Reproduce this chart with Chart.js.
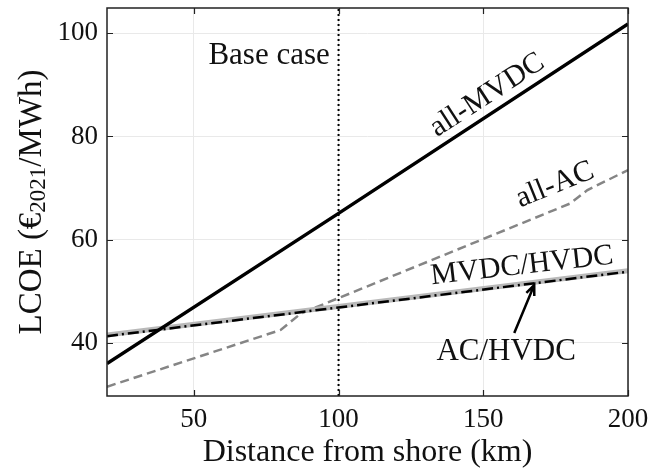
<!DOCTYPE html>
<html>
<head>
<meta charset="utf-8">
<script src="https://cdn.jsdelivr.net/npm/chart.js@4.4.1/dist/chart.umd.min.js"></script>
<style>
  html, body { margin: 0; padding: 0; background: #fff; }
  #wrap { width: 653px; height: 472px; position: relative; }
</style>
</head>
<body>
<div id="wrap"><canvas id="chart"></canvas></div>
<script>
// values
const mvdcDist = [20, 100, 200];
const mvdcCost = [36.0, 65.1, 101.8];

const acDist = [20, 80, 87, 180, 186, 200];
const acCost = [31.5, 42.5, 45.7, 67.0, 69.6, 73.5];

const mvdcHvdcDist = [20, 200];
const mvdcHvdcCost = [41.5, 54.0];

const acHvdcDist = [20, 200];
const acHvdcCost = [41.3, 53.8];

const baseCaseDist = [100, 100];
const baseCaseCost = [29.7, 104.9];

const xTicks = [50, 100, 150, 200];
const yTicks = [40, 60, 80, 100];

const SERIF = "'Liberation Serif', 'Times New Roman', serif";

const toPoints = (xs, ys) => xs.map((x, i) => ({ x: x, y: ys[i] }));

const line = (label, xs, ys, color, width, dash) => ({
	label: label,
	data: toPoints(xs, ys),
	borderColor: color,
	borderWidth: width,
	borderDash: dash || [],
	pointRadius: 0,
	tension: 0,
	fill: false,
});

// labels drawn on top of the plot
const annotations = {
	id: 'annotations',
	afterDraw(chart) {
		const ctx = chart.ctx;
		const xs = chart.scales.x;
		const ys = chart.scales.y;
		const area = chart.chartArea;
		const px = v => xs.getPixelForValue(v);
		const py = v => ys.getPixelForValue(v);

		ctx.save();
		// frame
		ctx.strokeStyle = '#222';
		ctx.lineWidth = 1.5;
		ctx.strokeRect(area.left, area.top, area.right - area.left, area.bottom - area.top);

		// inward ticks on all four sides
		ctx.lineWidth = 1.2;
		ctx.beginPath();
		xTicks.forEach(v => {
			const x = Math.round(px(v)) + 0.5;
			ctx.moveTo(x, area.bottom); ctx.lineTo(x, area.bottom - 6);
			ctx.moveTo(x, area.top); ctx.lineTo(x, area.top + 6);
		});
		yTicks.forEach(v => {
			const y = Math.round(py(v)) + 0.5;
			ctx.moveTo(area.left, y); ctx.lineTo(area.left + 6, y);
			ctx.moveTo(area.right, y); ctx.lineTo(area.right - 6, y);
		});
		ctx.stroke();

		ctx.fillStyle = '#111';
		ctx.textBaseline = 'middle';
		ctx.textAlign = 'center';

		const text = (str, x, y, deg, size) => {
			ctx.save();
			ctx.font = size + 'px ' + SERIF;
			ctx.translate(px(x), py(y));
			ctx.rotate(deg * Math.PI / 180);
			ctx.fillText(str, 0, 0);
			ctx.restore();
		};
		text('Base case', 76, 95.7, 0, 31);
		text('all-MVDC', 151.4, 88.0, -33, 30);
		text('all-AC', 174.8, 70.6, -22, 30);
		text('MVDC/HVDC', 163.4, 54.9, -6.5, 30);
		text('AC/HVDC', 157.9, 38.3, 0, 31);

		// arrow AC/HVDC -> its line
		const x0 = px(160.7), y0 = py(41.9), x1 = px(167.6), y1 = py(51.2);
		const ang = Math.atan2(y1 - y0, x1 - x0);
		ctx.strokeStyle = '#000';
		ctx.lineWidth = 2.5;
		ctx.beginPath();
		ctx.moveTo(x0, y0); ctx.lineTo(x1, y1);
		ctx.moveTo(x1 - 11 * Math.cos(ang - 0.4), y1 - 11 * Math.sin(ang - 0.4));
		ctx.lineTo(x1, y1);
		ctx.lineTo(x1 - 11 * Math.cos(ang + 0.4), y1 - 11 * Math.sin(ang + 0.4));
		ctx.stroke();

		// x axis title
		ctx.font = '32px ' + SERIF;
		ctx.fillText('Distance from shore (km)', (area.left + area.right) / 2, 453);

		// y axis title with subscript
		ctx.save();
		ctx.translate(32, (area.top + area.bottom) / 2);
		ctx.rotate(-Math.PI / 2);
		const big = '33px ' + SERIF, small = '23px ' + SERIF;
		const parts = [['LCOE (€', big, 0], ['2021', small, 7], ['/MWh)', big, 0]];
		let total = 0;
		parts.forEach(p => { ctx.font = p[1]; total += ctx.measureText(p[0]).width; });
		let cx = -total / 2;
		ctx.textAlign = 'left';
		parts.forEach(p => {
			ctx.font = p[1];
			ctx.fillText(p[0], cx, p[2]);
			cx += ctx.measureText(p[0]).width;
		});
		ctx.restore();
		ctx.restore();
	}
};

new Chart(document.getElementById('chart'), {
	type: 'line',
	data: {
		datasets: [
			line('all-MVDC', mvdcDist, mvdcCost, '#000', 3.5),
			line('AC/HVDC', acHvdcDist, acHvdcCost, '#000', 2.5, [11, 4, 2, 4]),
			line('MVDC/HVDC', mvdcHvdcDist, mvdcHvdcCost, '#b9b9b9', 5),
			line('all-AC', acDist, acCost, '#858585', 2.5, [9, 5]),
			line('Base case', baseCaseDist, baseCaseCost, '#000', 2, [2, 3]),
		]
	},
	options: {
		responsive: true,
		maintainAspectRatio: false,
		animation: false,
		layout: { padding: { left: 0, top: 8, right: 25, bottom: 0 } },
		plugins: {
			legend: { display: false },
			tooltip: { enabled: false },
		},
		scales: {
			x: {
				type: 'linear',
				min: 20,
				max: 200,
				afterBuildTicks: scale => { scale.ticks = xTicks.map(v => ({ value: v })); },
				afterFit: scale => {
					scale.height = 76;
					scale.paddingLeft = 0;
					scale.paddingRight = 0;
				},
				grid: { color: '#e9e9e9', lineWidth: 1, drawTicks: false },
				border: { display: false },
				ticks: {
					padding: 8,
					color: '#111',
					autoSkip: false,
					maxRotation: 0,
					font: { family: SERIF, size: 27 },
				},
			},
			y: {
				type: 'linear',
				min: 29.7,
				max: 104.9,
				afterBuildTicks: scale => { scale.ticks = yTicks.map(v => ({ value: v })); },
				afterFit: scale => {
					scale.width = 107;
					scale.paddingTop = 0;
					scale.paddingBottom = 0;
				},
				grid: { color: '#e9e9e9', lineWidth: 1, drawTicks: false },
				border: { display: false },
				ticks: {
					padding: 9,
					color: '#111',
					font: { family: SERIF, size: 27 },
				},
			},
		},
	},
	plugins: [annotations],
});
</script>
</body>
</html>
